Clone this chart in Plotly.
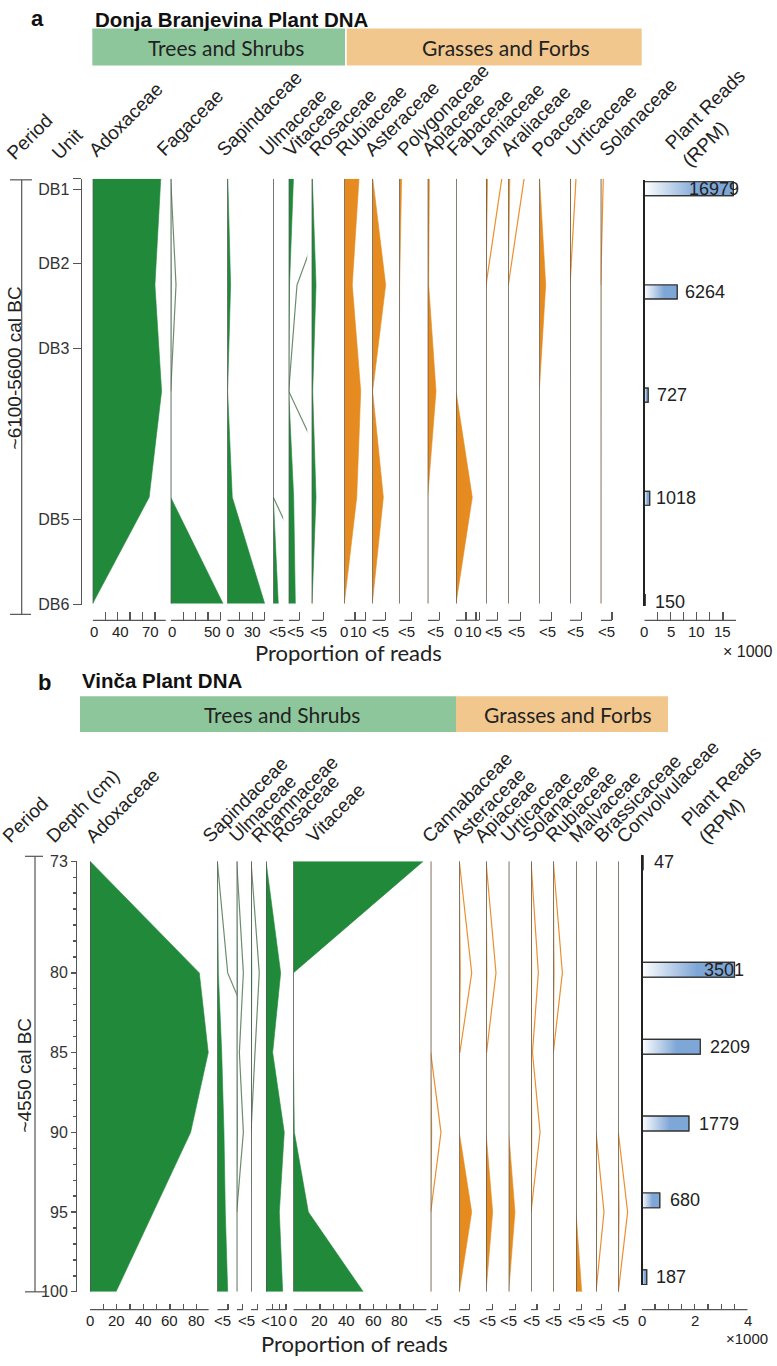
import plotly.graph_objects as go

W, H = 777, 1366
FONT = 'Liberation Sans, Arial, sans-serif'
FONT2 = 'Lato, Open Sans, sans-serif'
GREEN, ORANGE = '#21893a', '#e68b1f'
EX_GREEN, EX_ORANGE = '#6c8c6c', '#ec8f2e'
BASE_COL, AX_COL, TXT = '#555555', '#555555', '#222222'
HEAD_SIZE, TICK_SIZE, READ_SIZE = 19, 15, 18

# ------------------------- DATA : panel a (Donja Branjevina) -------------------------
a_samples = [0, 1, 2, 3, 4]
a_unit_labels = ['DB1', 'DB2', 'DB3', 'DB5', 'DB6']
a_unit_pos = [0.10, 0.80, 1.60, 3.21, 4.01]
a_reads = [16979, 6264, 727, 1018, 150]

a_adoxaceae = [82, 75, 83, 68, 0]
a_fagaceae = [0, 0.6, 0, 0, 63]
a_fagaceae_x10 = [0, 6.4, 0, None, None]
a_sapindaceae = [0.6, 4, 0.4, 6, 45]
a_ulmaceae = [0, 0, 0, 0, 6]
a_ulmaceae_x10 = [None, None, None, 0, 60]
a_vitaceae = [5.7, 1, 0, 6, 8]
a_vitaceae_x10 = [57, 10, 0, 60, None]
a_rosaceae = [0.8, 5.2, 1.2, 5.2, 0.4]
a_rubiaceae = [17.7, 9.6, 19.8, 15, 0]
a_asteraceae = [0.6, 16.1, 0.4, 13.3, 0]
a_polygonaceae = [2.8, 0.4, 0, 0, 0]
a_apiaceae = [2, 1.2, 10, 0, 0]
a_fabaceae = [0, 0, 0, 19.6, 0]
a_lamiaceae = [1.9, 0, 0, 0, 0]
a_lamiaceae_x10 = [19, 0, None, None, None]
a_araliaceae = [1.9, 0, 0, 0, 0]
a_araliaceae_x10 = [19, 0, None, None, None]
a_poaceae = [0.4, 7.7, 0, 0, 0]
a_urticaceae = [0.7, 0, 0, 0, 0]
a_urticaceae_x10 = [7.2, 0, None, None, None]
a_solanaceae = [0.3, 0, 0, 0, 0]
a_solanaceae_x10 = [3.1, 0, None, None, None]

# ------------------------- DATA : panel b (Vinča) -------------------------
b_depths = [73, 80, 85, 90, 95, 100]
b_depth_ticks = [73, 80, 85, 90, 95, 100]
b_reads = [47, 3501, 2209, 1779, 680, 187]

b_adoxaceae = [0, 82, 88.7, 75.5, 47.5, 19.5]
b_sapindaceae = [0, 0.8, 3.3, 5, 6, 7.8]
b_sapindaceae_x10 = [0, 7.8, 33, None, None, None]
b_ulmaceae = [0, 0.5, 0.2, 0.5, 0, 0]
b_ulmaceae_x10 = [0, 5, 2, 5, 0, None]
b_rhamnaceae = [0, 0.6, 0.3, 0, 0, 0]
b_rhamnaceae_x10 = [0, 6.2, 3, 0, None, None]
b_rosaceae = [0, 11, 5, 13.7, 10, 12.5]
b_vitaceae = [97.5, 0, 0, 0.8, 11.3, 52.5]
b_cannabaceae = [0, 0, 0, 0.8, 0, 0]
b_cannabaceae_x10 = [None, None, 0, 7.7, 0, None]
b_asteraceae = [0, 0.9, 0, 0, 9.3, 0]
b_asteraceae_x10 = [0, 9.3, 0.4, None, None, None]
b_apiaceae = [0, 0.75, 0, 0, 5, 0]
b_apiaceae_x10 = [0, 7.5, 0.4, None, None, None]
b_urticaceae = [0, 0, 0, 0, 4.7, 0]
b_solanaceae = [0, 0.55, 0.1, 0.7, 0, 0]
b_solanaceae_x10 = [0, 5.5, 1.1, 6.8, 0, None]
b_rubiaceae = [0, 0.7, 0, 0, 0, 0]
b_rubiaceae_x10 = [0, 6.8, 0, None, None, None]
b_malvaceae = [0, 0, 0, 0, 0, 4.3]
b_brassicaceae = [0, 0, 0, 0, 0.6, 0]
b_brassicaceae_x10 = [None, None, None, 0, 6, 0]
b_convolvulaceae = [0, 0, 0, 0, 0.7, 0]
b_convolvulaceae_x10 = [None, None, None, 0, 7, 0]

A_TAXA = [  # (name, group, values, exaggerated curve)
    ('Adoxaceae', 'tree', a_adoxaceae, None),
    ('Fagaceae', 'tree', a_fagaceae, a_fagaceae_x10),
    ('Sapindaceae', 'tree', a_sapindaceae, None),
    ('Ulmaceae', 'tree', a_ulmaceae, a_ulmaceae_x10),
    ('Vitaceae', 'tree', a_vitaceae, a_vitaceae_x10),
    ('Rosaceae', 'tree', a_rosaceae, None),
    ('Rubiaceae', 'grass', a_rubiaceae, None),
    ('Asteraceae', 'grass', a_asteraceae, None),
    ('Polygonaceae', 'grass', a_polygonaceae, None),
    ('Apiaceae', 'grass', a_apiaceae, None),
    ('Fabaceae', 'grass', a_fabaceae, None),
    ('Lamiaceae', 'grass', a_lamiaceae, a_lamiaceae_x10),
    ('Araliaceae', 'grass', a_araliaceae, a_araliaceae_x10),
    ('Poaceae', 'grass', a_poaceae, None),
    ('Urticaceae', 'grass', a_urticaceae, a_urticaceae_x10),
    ('Solanaceae', 'grass', a_solanaceae, a_solanaceae_x10),
]
B_TAXA = [
    ('Adoxaceae', 'tree', b_adoxaceae, None),
    ('Sapindaceae', 'tree', b_sapindaceae, b_sapindaceae_x10),
    ('Ulmaceae', 'tree', b_ulmaceae, b_ulmaceae_x10),
    ('Rhamnaceae', 'tree', b_rhamnaceae, b_rhamnaceae_x10),
    ('Rosaceae', 'tree', b_rosaceae, None),
    ('Vitaceae', 'tree', b_vitaceae, None),
    ('Cannabaceae', 'grass', b_cannabaceae, b_cannabaceae_x10),
    ('Asteraceae', 'grass', b_asteraceae, b_asteraceae_x10),
    ('Apiaceae', 'grass', b_apiaceae, b_apiaceae_x10),
    ('Urticaceae', 'grass', b_urticaceae, None),
    ('Solanaceae', 'grass', b_solanaceae, b_solanaceae_x10),
    ('Rubiaceae', 'grass', b_rubiaceae, b_rubiaceae_x10),
    ('Malvaceae', 'grass', b_malvaceae, None),
    ('Brassicaceae', 'grass', b_brassicaceae, b_brassicaceae_x10),
    ('Convolvulaceae', 'grass', b_convolvulaceae, b_convolvulaceae_x10),
]

# ------------------------- LAYOUT SPECS (pixel positions / styles) -------------------------
# base = column zero line (px), width = clip width (px), end = bracket end (axis units), head = label x (px)
A_SPEC = {
    'Adoxaceae': dict(base=92.7, width=75, end=88, ticks=[0, 15, 30, 45, 60, 75], labels=[(1.6, '0'), (34, '40'), (70, '70')], head=82),
    'Fagaceae': dict(base=170.7, width=55, end=60, ticks=[0, 15, 30, 45, 60], labels=[(1.6, '0'), (50, '50')], head=150),
    'Sapindaceae': dict(base=227.3, width=44, end=45, ticks=[0, 15, 30, 45], labels=[(3.5, '0'), (30, '30')], head=210),
    'Ulmaceae': dict(base=273.3, width=10, end=12, ticks=[0, 12], labels=[(4.5, '<5')], head=252),
    'Vitaceae': dict(base=288.7, width=18.6, end=13, ticks=[0, 13], labels=[(7.6, '<5')], head=277),
    'Rosaceae': dict(base=311.7, width=30, end=14, ticks=[0, 14], labels=[(7.6, '<5')], head=302),
    'Rubiaceae': dict(base=344.3, width=26, end=26, ticks=[0, 13, 26], labels=[(0, '0'), (17, '10')], head=329),
    'Asteraceae': dict(base=372.3, width=24, end=15.6, ticks=[0, 15.6], labels=[(9.3, '<5')], head=358),
    'Polygonaceae': dict(base=399.3, width=26, end=15, ticks=[0, 15], labels=[(8.9, '<5')], head=390),
    'Apiaceae': dict(base=427.7, width=26, end=14, ticks=[0, 14], labels=[(8.8, '<5')], head=415),
    'Fabaceae': dict(base=456, width=27, end=28, ticks=[0, 12, 24, 28], labels=[(2, '0'), (21, '10')], head=440),
    'Lamiaceae': dict(base=486, width=20, end=14, ticks=[0, 14], labels=[(8.8, '<5')], head=465),
    'Araliaceae': dict(base=508.3, width=28, end=15, ticks=[0, 15], labels=[(10, '<5')], head=494),
    'Poaceae': dict(base=539.3, width=28, end=15, ticks=[0, 15], labels=[(10, '<5')], head=525),
    'Urticaceae': dict(base=570, width=28, end=13.5, ticks=[0, 13.5], labels=[(7.2, '<5')], head=559),
    'Solanaceae': dict(base=600.7, width=30, end=13.5, ticks=[0, 13.5], labels=[(7.2, '<5')], head=592),
}
B_SPEC = {
    'Adoxaceae': dict(base=90, width=125, end=89, ticks=list(range(0, 81, 10)), labels=[(0, '0'), (20, '20'), (40, '40'), (60, '60'), (80, '80')], head=79),
    'Sapindaceae': dict(base=217.3, width=19.4, end=8, ticks=[0, 8], labels=[(4, '<5')], head=196),
    'Ulmaceae': dict(base=236.7, width=14, end=4.5, ticks=[0, 4.5], labels=[(7.5, '<5')], head=222),
    'Rhamnaceae': dict(base=251, width=15, end=5, ticks=[0, 5], labels=[], head=244),
    'Rosaceae': dict(base=266, width=27, end=15, ticks=[0, 5, 10, 15], labels=[(5.3, '<10')], head=265),
    'Vitaceae': dict(base=293.3, width=133.4, end=100, ticks=list(range(0, 101, 10)), labels=[(0, '0'), (20, '20'), (40, '40'), (60, '60'), (80, '80')], head=300),
    'Cannabaceae': dict(base=430.7, width=28, end=5, ticks=[0, 5], labels=[(2, '<5')], head=415),
    'Asteraceae': dict(base=459.3, width=26, end=7.5, ticks=[0, 7.5], labels=[(2, '<5')], head=444),
    'Apiaceae': dict(base=486, width=22, end=5, ticks=[0, 5], labels=[(1, '<5')], head=467),
    'Urticaceae': dict(base=508.7, width=22, end=5, ticks=[0, 5], labels=[(0, '<5')], head=494),
    'Solanaceae': dict(base=531, width=22, end=4.5, ticks=[0, 4.5], labels=[(0, '<5')], head=515),
    'Rubiaceae': dict(base=553.3, width=22, end=4.5, ticks=[0, 4.5], labels=[(0, '<5')], head=539),
    'Malvaceae': dict(base=576, width=20, end=4.3, ticks=[0, 4.3], labels=[(0, '<5')], head=562),
    'Brassicaceae': dict(base=596, width=22, end=4.3, ticks=[0, 4.3], labels=[(0.5, '<5')], head=587),
    'Convolvulaceae': dict(base=618.3, width=22, end=5, ticks=[0, 5], labels=[(1.3, '<5')], head=610),
}
PPU_A, PPU_B = 0.83, 1.333


def px(x):
    return x / W


def py(y):
    return 1 - y / H


fig = go.Figure()
axes = {}
shapes = []
annotations = []
counter = [0]


def new_xaxis(dom0, dom1, rng, bottom_px, ticks, ticklen):
    counter[0] += 1
    n = counter[0]
    key = 'xaxis' if n == 1 else 'xaxis%d' % n
    ref = 'x' if n == 1 else 'x%d' % n
    axes[key] = dict(domain=[px(dom0), px(dom1)], range=rng, anchor='free', position=py(bottom_px),
                     showgrid=False, zeroline=False, showline=False, ticks='inside', tickvals=ticks,
                     ticklen=ticklen, tickwidth=1.2, tickcolor=AX_COL, showticklabels=False, fixedrange=True)
    return ref


def add_panel(taxa, spec, ysamp, yref, ppu, axis_px, ticklen, lab_px, head_px):
    for name, group, vals, exag in taxa:
        s = spec[name]
        xr = new_xaxis(s['base'], s['base'] + s['width'], [0, s['width'] / ppu], axis_px, s['ticks'], ticklen)
        col = GREEN if group == 'tree' else ORANGE
        fig.add_trace(go.Scatter(x=vals, y=ysamp, mode='lines', fill='tozerox', fillcolor=col,
                                 line=dict(color=col, width=0.6), xaxis=xr, yaxis=yref,
                                 hoverinfo='skip', showlegend=False))
        if exag is not None:
            fig.add_trace(go.Scatter(x=exag, y=ysamp, mode='lines', connectgaps=False,
                                     line=dict(color=EX_GREEN if group == 'tree' else EX_ORANGE, width=1.2),
                                     xaxis=xr, yaxis=yref, hoverinfo='skip', showlegend=False))
        fig.add_trace(go.Scatter(x=[0, 0], y=[ysamp[0], ysamp[-1]], mode='lines',
                                 line=dict(color=BASE_COL, width=1.4), xaxis=xr, yaxis=yref,
                                 hoverinfo='skip', showlegend=False))
        shapes.append(dict(type='line', xref=xr, yref='paper', x0=0, x1=s['end'], y0=py(axis_px), y1=py(axis_px),
                           line=dict(color=AX_COL, width=1.2)))
        for v, t in s['labels']:
            annotations.append(dict(x=v, y=py(lab_px), xref=xr, yref='paper', text=t, showarrow=False,
                                    xanchor='center', yanchor='middle',
                                    font=dict(size=TICK_SIZE, color=TXT, family=FONT)))
        annotations.append(dict(x=px(s['head']), y=py(head_px), xref='paper', yref='paper', text=name,
                                textangle=-45, xanchor='left', yanchor='bottom', showarrow=False,
                                font=dict(size=HEAD_SIZE, color=TXT, family=FONT)))


def add_bars(reads, ypos, yref, dom0, dom1, rng, ticks, labels, axis_px, ticklen, lab_px,
             thick, anchors, shifts):
    xr = new_xaxis(dom0, dom1, rng, axis_px, ticks, ticklen)
    fig.add_trace(go.Bar(x=reads, y=ypos, orientation='h', width=thick, xaxis=xr, yaxis=yref,
                         marker=dict(color='#7ea6d6', line=dict(color='#333333', width=1.2)),
                         hoverinfo='skip', showlegend=False))
    for v, p in zip(reads, ypos):
        fig.add_trace(go.Scatter(x=[0, v, v, 0, 0], y=[p - thick / 2, p - thick / 2, p + thick / 2, p + thick / 2, p - thick / 2],
                                 mode='lines', fill='toself', line=dict(color='#333333', width=1.2),
                                 fillgradient=dict(type='horizontal',
                                                   colorscale=[[0, '#ffffff'], [0.6, '#7ea6d6'], [1, '#7ea6d6']]),
                                 xaxis=xr, yaxis=yref, hoverinfo='skip', showlegend=False))
    for v, p, an, sh in zip(reads, ypos, anchors, shifts):
        annotations.append(dict(x=v, y=p, xref=xr, yref=yref, text=str(v), showarrow=False, xanchor=an,
                                yanchor='middle', xshift=sh, font=dict(size=READ_SIZE, color=TXT, family=FONT)))
    shapes.append(dict(type='line', xref=xr, yref='paper', x0=rng[0], x1=rng[1], y0=py(axis_px), y1=py(axis_px),
                       line=dict(color=AX_COL, width=1.2)))
    for v, t in labels:
        annotations.append(dict(x=v, y=py(lab_px), xref=xr, yref='paper', text=t, showarrow=False,
                                xanchor='center', yanchor='middle', font=dict(size=TICK_SIZE, color=TXT, family=FONT)))


# ------------------------- panel a -------------------------
add_panel(A_TAXA, A_SPEC, a_samples, 'y', PPU_A, 620, 8, 631, 157)
add_bars(a_reads, a_samples, 'y3', 644.3, 736, [0, 17500], list(range(0, 17501, 2500)),
         [(0, '0'), (5000, '5'), (10000, '10'), (15000, '15')], 620, 8, 631, 0.134,
         ['right', 'left', 'left', 'left', 'left'], [8, 6, 7, 4, 8])

# ------------------------- panel b -------------------------
add_panel(B_TAXA, B_SPEC, b_depths, 'y2', PPU_B, 1318, 6, 1329, 852)
add_bars(b_reads, b_depths, 'y4', 641.7, 747.7, [0, 4000], list(range(0, 4001, 500)),
         [(0, '0'), (2000, '2'), (4000, '4')], 1318, 6, 1329, 0.96,
         ['left', 'right', 'left', 'left', 'left', 'left'], [9, 12, 8, 8, 8, 7])

# y axes
axes['yaxis'] = dict(domain=[py(604.3), py(173)], range=[4.012, 0], anchor='free', position=px(80.5),
                     showline=True, linecolor=AX_COL, linewidth=1.3, ticks='outside', ticklen=8,
                     tickcolor=AX_COL, tickwidth=1.3, tickvals=[0] + a_unit_pos, ticktext=[''] + a_unit_labels,
                     tickfont=dict(size=16, color='#333333', family=FONT), showgrid=False, zeroline=False,
                     fixedrange=True)
axes['yaxis2'] = dict(domain=[py(1300), py(864)], range=[100, 73], anchor='free', position=px(76),
                      showline=True, linecolor=AX_COL, linewidth=1.3, ticks='outside', ticklen=5,
                      tickcolor=AX_COL, tickwidth=1.3, tickvals=b_depth_ticks,
                      minor=dict(dtick=1, tick0=73, ticks='outside', ticklen=3, tickcolor=AX_COL, showgrid=False),
                      tickfont=dict(size=16, color='#333333', family=FONT), showgrid=False, zeroline=False,
                      fixedrange=True)
axes['yaxis3'] = dict(domain=[py(605.2), py(174.6)], range=[4.04, -0.08], anchor='free', position=px(644.3),
                      showline=True, linecolor='#222222', linewidth=2, ticks='', showticklabels=False,
                      showgrid=False, zeroline=False, fixedrange=True)
axes['yaxis4'] = dict(domain=[py(1293), py(858)], range=[100.5, 72.55], anchor='free', position=px(641.7),
                      showline=True, linecolor='#222222', linewidth=2, ticks='', showticklabels=False,
                      showgrid=False, zeroline=False, fixedrange=True)

# ------------------------- decorations -------------------------
def rect(x0, x1, y0, y1, color):
    shapes.append(dict(type='rect', xref='paper', yref='paper', x0=px(x0), x1=px(x1), y0=py(y1), y1=py(y0),
                       fillcolor=color, line=dict(width=0), layer='below'))


def seg(x0, y0, x1, y1, color=AX_COL, w=1.2):
    shapes.append(dict(type='line', xref='paper', yref='paper', x0=px(x0), x1=px(x1), y0=py(y0), y1=py(y1),
                       line=dict(color=color, width=w)))


def text(x, y, t, size, font=FONT, xa='center', ya='middle', angle=0, bold=False, color=TXT, align='center'):
    if bold:
        t = '<b>%s</b>' % t
    annotations.append(dict(x=px(x), y=py(y), xref='paper', yref='paper', text=t, showarrow=False,
                            xanchor=xa, yanchor=ya, textangle=angle, align=align,
                            font=dict(size=size, family=font, color=color)))


HDR_G, HDR_O = '#8ec69b', '#f1c78e'
# panel a header
text(37, 11, 'a', 22, bold=True, color='#111111')
text(93, 12, 'Donja Branjevina Plant DNA', 20.5, xa='left', bold=True, color='#111111')
rect(92.3, 345, 20.7, 58.3, HDR_G)
rect(346.7, 641.7, 20.7, 58.3, HDR_O)
text(226, 40, 'Trees and Shrubs', 21, font=FONT2)
text(506, 40, 'Grasses and Forbs', 21, font=FONT2)
text(0, 160, 'Period', HEAD_SIZE, xa='left', ya='bottom', angle=-45)
text(45, 160, 'Unit', HEAD_SIZE, xa='left', ya='bottom', angle=-45)
text(658, 168, 'Plant Reads<br>(RPM)', HEAD_SIZE, xa='left', ya='bottom', angle=-45, align='left')
seg(21.7, 174, 21.7, 614)
seg(10, 174, 32, 174)
seg(10, 614, 31, 614)
text(14, 365, '~6100-5600 cal BC', 19, angle=-90)
text(348, 653, 'Proportion of reads', 22, font=FONT2)
text(747, 652, '× 1000', 16)

# panel b header
text(44, 683, 'b', 22, bold=True, color='#111111')
text(80, 681, 'Vinča Plant DNA', 20.5, xa='left', bold=True, color='#111111')
rect(80, 456, 697, 733, HDR_G)
rect(456, 668, 697, 733, HDR_O)
text(282, 715, 'Trees and Shrubs', 21, font=FONT2)
text(567.5, 715, 'Grasses and Forbs', 21, font=FONT2)
text(-4, 852, 'Period', HEAD_SIZE, xa='left', ya='bottom', angle=-45)
text(40, 852, 'Depth (cm)', HEAD_SIZE, xa='left', ya='bottom', angle=-45)
text(674, 853, 'Plant Reads<br>(RPM)', HEAD_SIZE, xa='left', ya='bottom', angle=-45, align='left')
seg(35, 859, 35, 1300)
seg(25, 859, 43, 859)
seg(25, 1300, 47, 1300)
text(25, 1081, '~4550 cal BC', 19, angle=-90)
text(354, 1352, 'Proportion of reads', 22, font=FONT2)
text(746.5, 1347, '×1000', 15)

fig.update_layout(width=W, height=H, margin=dict(l=0, r=0, t=0, b=0), autosize=False,
                  paper_bgcolor='white', plot_bgcolor='rgba(0,0,0,0)', showlegend=False,
                  shapes=shapes, annotations=annotations, bargap=0, **axes)

fig.write_html('out.html', config={'displayModeBar': False, 'staticPlot': True})
